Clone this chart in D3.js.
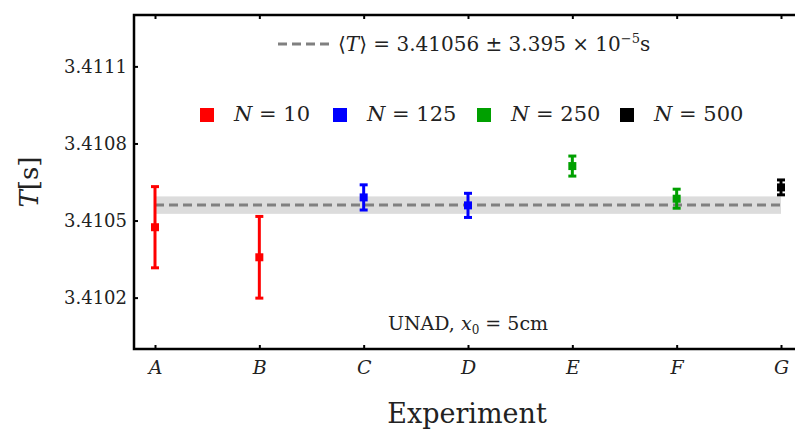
<!DOCTYPE html>
<html>
<head>
<meta charset="utf-8">
<script src="https://cdn.jsdelivr.net/npm/d3@7"></script>
<style>
  body { margin: 0; background: #fff; }
  text { font-family: "DejaVu Serif", "Liberation Serif", serif; fill: #222; }
</style>
</head>
<body>
<svg id="chart" width="795" height="430"></svg>
<script>
// Data
var experiments = ["A", "B", "C", "D", "E", "F", "G"];
var periods = [3.410474, 3.410357, 3.410590, 3.410559, 3.410712, 3.410585, 3.410629];
var errors = [0.000158, 0.000159, 0.000049, 0.000047, 0.000039, 0.000037, 0.000029];
var sampleSizes = [10, 10, 125, 125, 250, 250, 500];
var legendSizes = [10, 125, 250, 500];
var legendColors = ["#ff0000", "#0000ff", "#00a000", "#000000"];
var yTicks = [3.4102, 3.4105, 3.4108, 3.4111];
var meanT = 3.41056;
var sdT = 0.00003395;

var svg = d3.select("#chart");
var mLeft = 134, mRight = 795, mTop = 15, mBottom = 349;

var x = d3.scalePoint().domain(experiments).range([155, 781]);
var y = d3.scaleLinear().domain([3.4100, 3.4113]).range([mBottom, mTop]);
var color = d3.scaleOrdinal().domain(legendSizes).range(legendColors);

// mean band + dashed mean line
svg.append("rect")
  .attr("x", x("A")).attr("width", x("G") - x("A"))
  .attr("y", y(meanT + sdT)).attr("height", y(meanT - sdT) - y(meanT + sdT))
  .attr("fill", "#dcdcdc");
svg.append("line")
  .attr("x1", x("A")).attr("x2", x("G"))
  .attr("y1", y(meanT)).attr("y2", y(meanT))
  .attr("stroke", "#808080").attr("stroke-width", 3)
  .attr("stroke-dasharray", "9,5");

// axes
var yAxis = d3.axisLeft(y).tickValues(yTicks).tickFormat(d3.format(".4f"))
  .tickSizeInner(-4).tickSizeOuter(0).tickPadding(7);
var gy = svg.append("g").attr("transform", "translate(" + mLeft + ",0)").call(yAxis);
gy.select(".domain").remove();
gy.selectAll("text").style("font-size", "18px").style("font-family", "DejaVu Serif");
gy.selectAll("line").attr("stroke-width", 2);

var xAxis = d3.axisBottom(x).tickSizeInner(-4).tickSizeOuter(0).tickPadding(12);
var gx = svg.append("g").attr("transform", "translate(0," + mBottom + ")").call(xAxis);
gx.select(".domain").remove();
gx.selectAll("text").style("font-size", "19px").style("font-style", "italic")
  .style("font-family", "DejaVu Serif");
gx.selectAll("line").attr("stroke-width", 2);

var xTop = d3.axisTop(x).tickSizeInner(-4).tickSizeOuter(0).tickFormat("");
var gt = svg.append("g").attr("transform", "translate(0," + mTop + ")").call(xTop);
gt.select(".domain").remove();
gt.selectAll("line").attr("stroke-width", 2);

// frame (left, top, bottom)
svg.append("path")
  .attr("d", "M" + mRight + "," + mTop + "H" + mLeft + "V" + mBottom + "H" + mRight)
  .attr("fill", "none").attr("stroke", "#000").attr("stroke-width", 2.5);

// error bars
var pts = experiments.map(function(e, i) {
  return { name: e, t: periods[i], err: errors[i], n: sampleSizes[i] };
});
var eb = svg.append("g").selectAll("g").data(pts).enter().append("g")
  .attr("stroke", d => color(d.n)).attr("fill", d => color(d.n));
eb.append("line")
  .attr("x1", d => x(d.name)).attr("x2", d => x(d.name))
  .attr("y1", d => y(d.t + d.err)).attr("y2", d => y(d.t - d.err))
  .attr("stroke-width", 3);
eb.append("line")
  .attr("x1", d => x(d.name) - 4).attr("x2", d => x(d.name) + 4)
  .attr("y1", d => y(d.t + d.err)).attr("y2", d => y(d.t + d.err))
  .attr("stroke-width", 3);
eb.append("line")
  .attr("x1", d => x(d.name) - 4).attr("x2", d => x(d.name) + 4)
  .attr("y1", d => y(d.t - d.err)).attr("y2", d => y(d.t - d.err))
  .attr("stroke-width", 3);
eb.append("rect")
  .attr("x", d => x(d.name) - 4).attr("y", d => y(d.t) - 4)
  .attr("width", 8).attr("height", 8).attr("stroke", "none");

// mean legend
svg.append("line").attr("x1", 278).attr("x2", 332).attr("y1", 44).attr("y2", 44)
  .attr("stroke", "#808080").attr("stroke-width", 3).attr("stroke-dasharray", "9,5");
var mt = svg.append("text").attr("x", 338).attr("y", 51).style("font-size", "20px");
mt.append("tspan").text("\u27E8");
mt.append("tspan").style("font-style", "italic").text("T");
mt.append("tspan").text("\u27E9 = " + meanT + " \u00B1 3.395 \u00D7 10");
mt.append("tspan").attr("dy", -8).style("font-size", "13px").text("\u22125");
mt.append("tspan").attr("dy", 8).text("s");

// sample size legend
var lx = [200, 333, 477, 620];
var lg = svg.append("g").selectAll("g").data(legendSizes).enter().append("g")
  .attr("transform", (d, i) => "translate(" + lx[i] + ",108)");
lg.append("rect").attr("width", 14).attr("height", 14).attr("fill", d => color(d));
var lt = lg.append("text").attr("x", 34).attr("y", 13).style("font-size", "21px");
lt.append("tspan").style("font-style", "italic").text("N");
lt.append("tspan").text(d => " = " + d);

// annotation
var an = svg.append("text").attr("x", 468).attr("y", 330).attr("text-anchor", "middle")
  .style("font-size", "19px");
an.append("tspan").text("UNAD, ");
an.append("tspan").style("font-style", "italic").text("x");
an.append("tspan").attr("dy", 4).style("font-size", "12px").text("0");
an.append("tspan").attr("dy", -4).text(" = 5cm");

// axis titles
svg.append("text").attr("x", 467).attr("y", 423).attr("text-anchor", "middle")
  .style("font-size", "27px").text("Experiment");
var yt = svg.append("text").attr("transform", "translate(38,182) rotate(-90)")
  .attr("text-anchor", "middle").style("font-size", "26px");
yt.append("tspan").style("font-style", "italic").text("T");
yt.append("tspan").text("[s]");
</script>
</body>
</html>
